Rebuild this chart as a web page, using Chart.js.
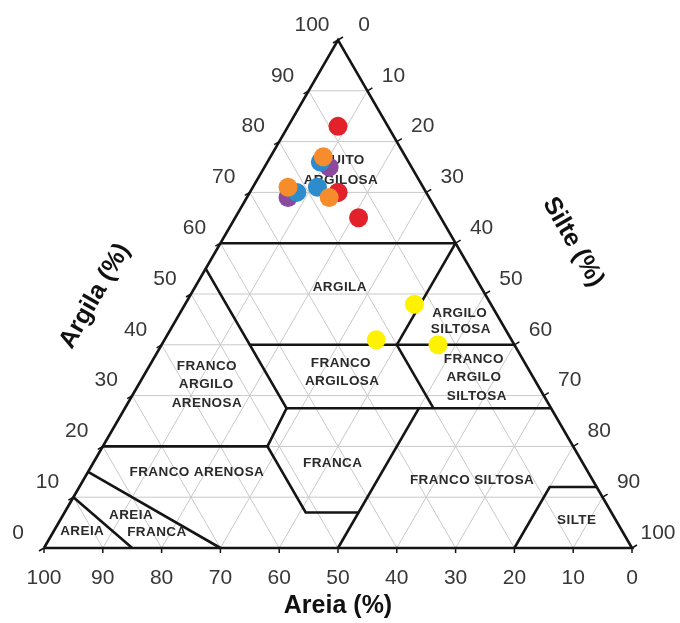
<!DOCTYPE html>
<html>
<head>
<meta charset="utf-8">
<script src="https://cdn.jsdelivr.net/npm/chart.js@4.4.0/dist/chart.umd.min.js"></script>
<style>
  html, body { margin: 0; padding: 0; background: #fff; }
  #wrap { width: 680px; height: 623px; }
</style>
</head>
<body>
<div id="wrap"><canvas id="triChart" width="680" height="623"></canvas></div>
<script>
// ── DATA ────────────────────────────────────
// tick values along each side (every 10 %)
const tickValues = [0, 10, 20, 30, 40, 50, 60, 70, 80, 90, 100];
const sandTickLabels = ['100', '90', '80', '70', '60', '50', '40', '30', '20', '10', '0'];
const clayTickLabels = ['0', '10', '20', '30', '40', '50', '60', '70', '80', '90', '100'];
const siltTickLabels = ['0', '10', '20', '30', '40', '50', '60', '70', '80', '90', '100'];

// samples: clay % and sand %
const redClay = [83, 70, 65];
const redSand = [8.5, 15, 14];
const orangeClay = [77, 71, 69];
const orangeSand = [14, 23, 17];
const blueClay = [76, 70, 71];
const blueSand = [15, 22, 18];
const purpleClay = [75, 69, 70];
const purpleSand = [14, 24, 15];
const yellowClay = [48, 41, 40];
const yellowSand = [13, 23, 13];

// texture class boundaries, as [sand, clay] polylines
const classBoundaries = [
  [[100, 0], [0, 0], [0, 100], [100, 0]],
  [[40, 60], [0, 60]],
  [[45, 55], [45, 27.5], [52, 20]],
  [[45, 40], [0, 40]],
  [[20, 40], [0, 60]],
  [[20, 40], [20, 27.5]],
  [[45, 27.5], [0, 27.5]],
  [[80, 20], [52, 20], [52, 7], [43, 7]],
  [[50, 0], [22.5, 27.5]],
  [[20, 0], [8, 12], [0, 12]],
  [[85, 15], [70, 0]],
  [[90, 10], [85, 0]]
];

// class names (lines of text) and where they sit: [x-scale value, clay]
const classNames = [
  ['MUITO', 50.7, 76.4], ['ARGILOSA', 50.5, 72.4],
  ['ARGILA', 50.3, 51.4],
  ['ARGILO', 70.7, 46.3], ['SILTOSA', 70.9, 43.1],
  ['FRANCO', 73.1, 37.2], ['ARGILO', 73.1, 33.7], ['SILTOSA', 73.6, 29.9],
  ['FRANCO', 27.7, 35.8], ['ARGILO', 27.6, 32.3], ['ARENOSA', 27.7, 28.5],
  ['FRANCO', 50.5, 36.4], ['ARGILOSA', 50.7, 32.9],
  ['FRANCA', 49.1, 16.7],
  ['FRANCO ARENOSA', 26.0, 15.0],
  ['FRANCO SILTOSA', 72.8, 13.4],
  ['SILTE', 90.6, 5.5],
  ['AREIA', 6.5, 3.3],
  ['AREIA', 14.8, 6.5], ['FRANCA', 19.2, 3.1]
];

// ── HELPERS ──────────────────────────────────
// ternary (sand, clay) -> chart x / y
function toXY(sand, clay) {
  return { x: 100 - sand - clay / 2, y: clay };
}

function samplePoints(clayArr, sandArr) {
  return clayArr.map((c, i) => toXY(sandArr[i], c));
}

const datasets = [];

// light grid every 10 %
tickValues.slice(1, -1).forEach(v => {
  [
    [toXY(100 - v, v), toXY(0, v)],          // clay = v
    [toXY(v, 0), toXY(v, 100 - v)],          // sand = v
    [toXY(100 - v, 0), toXY(0, 100 - v)]     // silt = v
  ].forEach(seg => {
    datasets.push({
      type: 'line', data: seg, borderColor: '#c9c9c9', borderWidth: 1,
      pointRadius: 0, fill: false, clip: false, order: 30
    });
  });
});

// class boundaries
classBoundaries.forEach(poly => {
  datasets.push({
    type: 'line', data: poly.map(p => toXY(p[0], p[1])),
    borderColor: '#151515', borderWidth: 2.6, pointRadius: 0,
    fill: false, clip: false, order: 20, borderJoinStyle: 'miter'
  });
});

function sampleSet(clayArr, sandArr, color, order) {
  return {
    type: 'scatter', data: samplePoints(clayArr, sandArr), sample: true,
    backgroundColor: color, borderWidth: 0, pointRadius: 9.5,
    clip: false, order: order
  };
}
datasets.push(sampleSet(purpleClay, purpleSand, '#8b4a9d', 9));
datasets.push(sampleSet(blueClay, blueSand, '#2d8ccc', 8));
datasets.push(sampleSet(redClay, redSand, '#e3212a', 7));
datasets.push(sampleSet(orangeClay, orangeSand, '#f68c2c', 6));
datasets.push(sampleSet(yellowClay, yellowSand, '#fff200', 5));

// ── TEXT PLUGIN ──────────────────────────────
const ternaryText = {
  id: 'ternaryText',
  beforeDraw(chart) { chart._namesDone = false; },
  beforeDatasetDraw(chart, args) {
    const ds = chart.data.datasets[args.index];
    if (!ds.sample || chart._namesDone) return;
    chart._namesDone = true;
    const { ctx, scales: { x, y } } = chart;
    ctx.save();
    ctx.fillStyle = '#2a2a2a';
    ctx.font = 'bold 13.5px "Liberation Sans", Arial, sans-serif';
    ctx.letterSpacing = '0.4px';
    ctx.textAlign = 'center';
    ctx.textBaseline = 'middle';
    classNames.forEach(([txt, xv, cv]) => {
      ctx.fillText(txt, x.getPixelForValue(xv), y.getPixelForValue(cv));
    });
    ctx.restore();
  },
  afterDraw(chart) {
    const { ctx, scales: { x, y } } = chart;
    ctx.save();
    ctx.strokeStyle = '#151515';
    ctx.lineWidth = 1.5;
    ctx.fillStyle = '#383838';
    ctx.font = '21px "Liberation Sans", Arial, sans-serif';
    ctx.textAlign = 'center';
    ctx.textBaseline = 'middle';

    tickValues.forEach((v, i) => {
      // bottom: sand
      let p = toXY(100 - v, 0);
      let px = x.getPixelForValue(p.x), py = y.getPixelForValue(p.y);
      ctx.beginPath(); ctx.moveTo(px, py); ctx.lineTo(px, py + 5); ctx.stroke();
      ctx.fillText(sandTickLabels[i], px, py + 30);

      // left: clay
      p = toXY(100 - v, v);
      px = x.getPixelForValue(p.x); py = y.getPixelForValue(p.y);
      ctx.beginPath(); ctx.moveTo(px, py); ctx.lineTo(px - 5, py + 3); ctx.stroke();
      ctx.fillText(clayTickLabels[i], px - 26, py - 15);

      // right: silt
      p = toXY(0, 100 - v);
      px = x.getPixelForValue(p.x); py = y.getPixelForValue(p.y);
      ctx.beginPath(); ctx.moveTo(px, py); ctx.lineTo(px + 5, py - 3); ctx.stroke();
      ctx.fillText(siltTickLabels[i], px + 26, py - 15);
    });

    ctx.fillStyle = '#111';
    ctx.font = 'bold 25px "Liberation Sans", Arial, sans-serif';
    ctx.fillText('Areia (%)', x.getPixelForValue(50), y.getPixelForValue(0) + 58);

    // left title along the clay side
    let e = toXY(50, 50);
    ctx.save();
    ctx.translate(x.getPixelForValue(e.x) - 96, y.getPixelForValue(e.y) + 2);
    ctx.rotate(-Math.PI / 3);
    ctx.fillText('Argila (%)', 0, 0);
    ctx.restore();

    // right title along the silt side
    e = toXY(0, 50);
    ctx.save();
    ctx.translate(x.getPixelForValue(e.x) + 88, y.getPixelForValue(e.y) - 52);
    ctx.rotate(Math.PI / 3);
    ctx.fillText('Silte (%)', 0, 0);
    ctx.restore();

    ctx.restore();
  }
};

new Chart(document.getElementById('triChart'), {
  type: 'scatter',
  data: { datasets },
  options: {
    responsive: false,
    animation: false,
    events: [],
    devicePixelRatio: 1,
    layout: { padding: { left: 44, right: 48, top: 40, bottom: 75 } },
    scales: {
      x: { type: 'linear', min: 0, max: 100, display: false },
      y: { type: 'linear', min: 0, max: 100, display: false }
    },
    plugins: { legend: { display: false }, tooltip: { enabled: false } }
  },
  plugins: [ternaryText]
});
</script>
</body>
</html>
